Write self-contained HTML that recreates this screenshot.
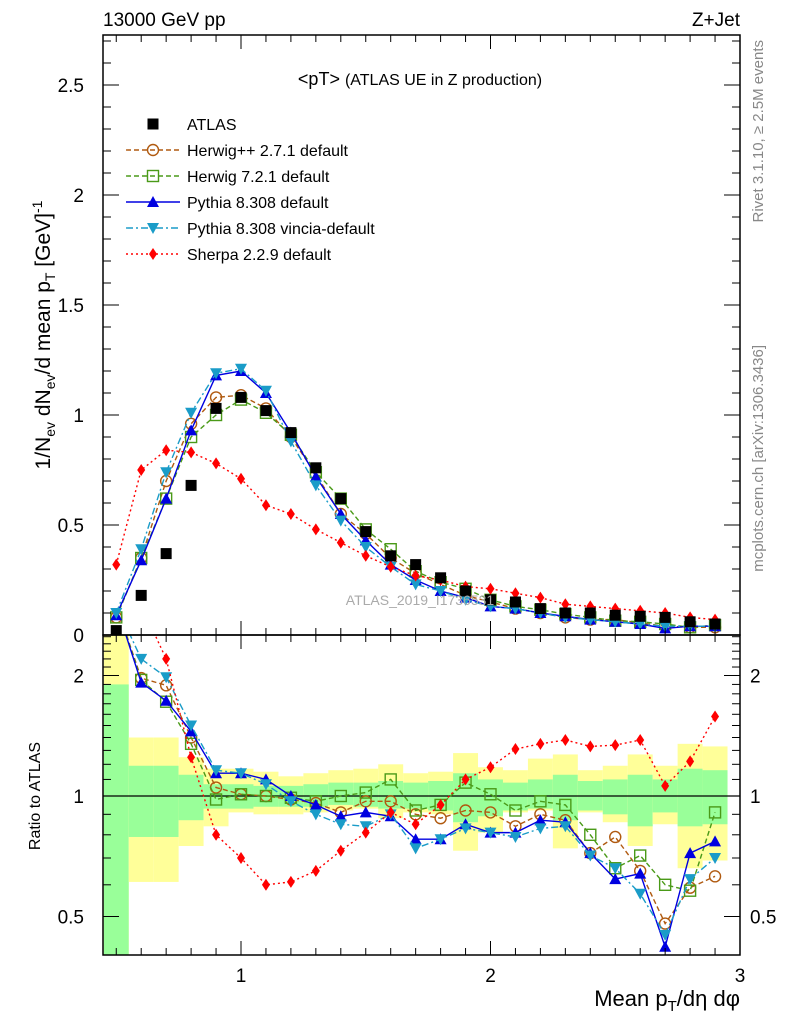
<!DOCTYPE html>
<html><head><meta charset="utf-8"><style>
html,body{margin:0;padding:0;background:#fff;}
svg{display:block;font-family:"Liberation Sans",sans-serif;}
</style></head><body>
<svg id="c" width="786" height="1024" viewBox="0 0 786 1024"></svg>
<script>
const xs=[0.5,0.6,0.7,0.8,0.9,1.0,1.1,1.2,1.3,1.4,1.5,1.6,1.7,1.8,1.9,2.0,2.1,2.2,2.3,2.4,2.5,2.6,2.7,2.8,2.9];
const atlas=[0.02,0.18,0.37,0.68,1.03,1.08,1.02,0.92,0.76,0.62,0.47,0.36,0.32,0.26,0.20,0.16,0.15,0.12,0.10,0.10,0.09,0.085,0.08,0.06,0.05];
const herwigpp=[0.08,0.35,0.70,0.96,1.08,1.09,1.03,0.90,0.73,0.55,0.46,0.35,0.28,0.23,0.18,0.15,0.12,0.10,0.08,0.07,0.07,0.055,0.04,0.035,0.035];
const herwig7=[0.08,0.35,0.62,0.90,1.00,1.07,1.01,0.91,0.74,0.62,0.48,0.39,0.29,0.24,0.21,0.16,0.13,0.115,0.095,0.08,0.065,0.06,0.05,0.035,0.045];
const pythia=[0.09,0.34,0.62,0.93,1.18,1.20,1.10,0.92,0.72,0.55,0.43,0.32,0.25,0.20,0.17,0.13,0.12,0.10,0.085,0.07,0.06,0.05,0.03,0.04,0.04];
const vincia=[0.10,0.39,0.74,1.01,1.19,1.21,1.11,0.88,0.68,0.52,0.40,0.31,0.23,0.20,0.16,0.13,0.12,0.10,0.08,0.07,0.06,0.05,0.04,0.04,0.04];
const sherpa=[0.32,0.75,0.84,0.83,0.78,0.71,0.59,0.55,0.48,0.42,0.36,0.31,0.27,0.25,0.22,0.21,0.19,0.17,0.14,0.13,0.12,0.11,0.10,0.08,0.07];
const rHerwigpp=[3.0,1.97,1.89,1.40,1.05,1.01,1.00,0.98,0.96,0.91,0.97,0.97,0.90,0.88,0.92,0.91,0.84,0.90,0.87,0.72,0.79,0.65,0.48,0.59,0.63];
const rHerwig7=[3.0,1.95,1.72,1.35,0.98,1.01,1.00,0.99,0.97,1.00,1.02,1.10,0.92,0.95,1.08,1.01,0.92,0.97,0.95,0.80,0.66,0.71,0.60,0.58,0.91];
const rPythia=[3.0,1.92,1.73,1.45,1.14,1.14,1.10,1.00,0.95,0.89,0.91,0.89,0.78,0.78,0.85,0.81,0.81,0.87,0.86,0.72,0.62,0.64,0.42,0.72,0.77];
const rVincia=[3.0,2.20,1.98,1.50,1.16,1.14,1.07,0.97,0.90,0.85,0.84,0.90,0.74,0.78,0.83,0.81,0.79,0.83,0.84,0.71,0.66,0.57,0.45,0.62,0.70];
const rSherpa=[3.0,3.0,2.2,1.25,0.80,0.70,0.60,0.61,0.65,0.73,0.81,0.91,0.85,0.95,1.10,1.18,1.31,1.35,1.38,1.33,1.34,1.38,1.06,1.22,1.58];
const greenHi=[1.9,1.19,1.19,1.13,1.07,1.07,1.06,1.06,1.07,1.08,1.08,1.09,1.08,1.09,1.14,1.10,1.08,1.10,1.13,1.09,1.10,1.13,1.10,1.17,1.16];
const greenLo=[0.35,0.79,0.79,0.87,0.93,0.93,0.94,0.94,0.94,0.95,0.94,0.93,0.93,0.92,0.86,0.89,0.92,0.93,0.87,0.92,0.90,0.84,0.91,0.84,0.85];
const yellowHi=[3.0,1.40,1.40,1.25,1.17,1.17,1.15,1.12,1.14,1.16,1.17,1.20,1.14,1.15,1.28,1.18,1.16,1.24,1.27,1.16,1.19,1.27,1.19,1.35,1.33];
const yellowLo=[0.35,0.61,0.61,0.75,0.84,0.91,0.90,0.90,0.91,0.92,0.93,0.88,0.91,0.90,0.73,0.81,0.91,0.92,0.74,0.91,0.86,0.75,0.85,0.66,0.69];
const mainTicks=["0","0.5","1","1.5","2","2.5"];
const xTicks=["1","2","3"];

const NS="http://www.w3.org/2000/svg";
const svg=document.getElementById('c');
const L=103,R=740,MT=35,MB=635,RT=635,RB=955;
const X=v=>241+(v-1)*249.5;
const Y=v=>635-v*220;
const RY=v=>796-Math.log2(v)*120.5;
function mk(tag,at,parent){const e=document.createElementNS(NS,tag);for(const k in at)e.setAttribute(k,at[k]);(parent||svg).appendChild(e);return e;}
function txt(s,x,y,size,anchor,parent,fill){const t=mk('text',{x:x,y:y,'font-size':size,'text-anchor':anchor||'start',fill:fill||'#000'},parent);t.textContent=s;return t;}

const defs=mk('defs',{});
const c1=mk('clipPath',{id:'cm'},defs);mk('rect',{x:L,y:MT,width:R-L,height:MB-MT},c1);
const c2=mk('clipPath',{id:'cr'},defs);mk('rect',{x:L,y:RT,width:R-L,height:RB-RT},c2);

const bands=mk('g',{'clip-path':'url(#cr)'});


xs.forEach((x,i)=>{
  const x0=i===0?X(0.45):X(x-0.05), x1=X(x+0.05);
  const y=mk('rect',{x:x0,y:RY(yellowHi[i]),width:x1-x0,height:RY(yellowLo[i])-RY(yellowHi[i]),fill:'#ffff99'},bands);
  
  
  const g=mk('rect',{x:x0,y:RY(greenHi[i]),width:x1-x0,height:RY(greenLo[i])-RY(greenHi[i]),fill:'#99ff99'},bands);
  
  
});
mk('line',{x1:L,x2:R,y1:RY(1),y2:RY(1),stroke:'#000','stroke-width':1.3});

function marker(kind,x,y,col,parent){
  if(kind==='sq')return mk('rect',{x:x-5.5,y:y-5.5,width:11,height:11,fill:'#000'},parent);
  if(kind==='circ')return mk('circle',{cx:x,cy:y,r:5.5,fill:'none',stroke:col,'stroke-width':1.4},parent);
  if(kind==='osq')return mk('rect',{x:x-5.5,y:y-5.5,width:11,height:11,fill:'none',stroke:col,'stroke-width':1.4},parent);
  if(kind==='tu')return mk('polygon',{points:`${x},${y-6} ${x-6},${y+5} ${x+6},${y+5}`,fill:col},parent);
  if(kind==='td')return mk('polygon',{points:`${x},${y+6} ${x-6},${y-5} ${x+6},${y-5}`,fill:col},parent);
  if(kind==='dia')return mk('polygon',{points:`${x},${y-6} ${x-4},${y} ${x},${y+6} ${x+4},${y}`,fill:col},parent);
}
const series=[
 {n:'herwigpp',d:herwigpp,r:rHerwigpp,col:'#b05a10',dash:'5,3',m:'circ',lab:'Herwig++ 2.7.1 default'},
 {n:'herwig7',d:herwig7,r:rHerwig7,col:'#4a9a18',dash:'5,3',m:'osq',lab:'Herwig 7.2.1 default'},
 {n:'pythia',d:pythia,r:rPythia,col:'#0000e0',dash:'',m:'tu',lab:'Pythia 8.308 default'},
 {n:'vincia',d:vincia,r:rVincia,col:'#1a9cc8',dash:'7,3,2,3',m:'td',lab:'Pythia 8.308 vincia-default'},
 {n:'sherpa',d:sherpa,r:rSherpa,col:'#ff0000',dash:'2,3',m:'dia',lab:'Sherpa 2.2.9 default'}
];
const gm=mk('g',{'clip-path':'url(#cm)'});
const gr=mk('g',{'clip-path':'url(#cr)'});
series.forEach(s=>{
  [[gm,s.d,Y,'main'],[gr,s.r,RY,'ratio']].forEach(([g,d,f,p])=>{
    const sg=mk('g',{},g);
    
    
    const pts=xs.map((x,i)=>X(x)+','+f(d[i])).join(' ');
    const pl=mk('polyline',{points:pts,fill:'none',stroke:s.col,'stroke-width':1.4,'stroke-dasharray':s.dash},sg);
    
    
    xs.forEach((x,i)=>{const m=marker(s.m,X(x),f(d[i]),s.col,sg);
      
      });
  });
});
const ga=mk('g',{'clip-path':'url(#cm)'});


xs.forEach((x,i)=>{const m=marker('sq',X(x),Y(atlas[i]),'#000',ga);
  
  });

mk('rect',{x:L,y:MT,width:R-L,height:MB-MT,fill:'none',stroke:'#000','stroke-width':1.5});
mk('rect',{x:L,y:RT,width:R-L,height:RB-RT,fill:'none',stroke:'#000','stroke-width':1.5});

for(let k=5;k<=30;k++){const v=k/10,x=X(v);if(x<L||x>R)continue;const maj=k%10===0;const l=maj?14:7;
  [[MB,-1],[MT,1],[RB,-1],[RT,1]].forEach(([y,d])=>mk('line',{x1:x,x2:x,y1:y,y2:y+d*l,stroke:'#000','stroke-width':1}));}
xTicks.forEach(t=>{const e=txt(t,X(+t),982,19,'middle');});
for(let k=0;k<=27;k++){const v=k/10,y=Y(v);const maj=k%5===0;const l=maj?16:8;
  mk('line',{x1:L,x2:L+l,y1:y,y2:y,stroke:'#000'});mk('line',{x1:R,x2:R-l,y1:y,y2:y,stroke:'#000'});}
mainTicks.forEach(t=>{const e=txt(t,84,Y(+t)+7,19,'end');});
[0.4,0.5,0.6,0.7,0.8,0.9,1,1.1,1.2,1.3,1.4,1.5,1.6,1.7,1.8,1.9,2,2.1,2.2,2.3,2.4,2.5].forEach(v=>{const y=RY(v);if(y<RT||y>RB)return;
  const maj=(v===0.5||v===1||v===2);const l=maj?16:8;
  mk('line',{x1:L,x2:L+l,y1:y,y2:y,stroke:'#000'});mk('line',{x1:R,x2:R-l,y1:y,y2:y,stroke:'#000'});});
[["2",2],["1",1],["0.5",0.5]].forEach(([t,v])=>{
  let e=txt(t,84,RY(v)+7,19,'end');
  e=txt(t,750,RY(v)+7,19,'start');});

let e;
e=txt('13000 GeV pp',103,26,19,'start');
e=txt('Z+Jet',740,26,19,'end');
e=mk('text',{x:420,y:85,'font-size':18,'text-anchor':'middle'});e.innerHTML='&lt;pT&gt; <tspan font-size="16">(ATLAS UE in Z production)</tspan>';

e=mk('text',{transform:'translate(50,335) rotate(-90)','font-size':21,'text-anchor':'middle'});
e.innerHTML='1/N<tspan font-size="14" dy="5">ev</tspan><tspan dy="-5"> dN</tspan><tspan font-size="14" dy="5">ev</tspan><tspan dy="-5">/d mean p</tspan><tspan font-size="14" dy="5">T</tspan><tspan dy="-5"> [GeV]</tspan><tspan font-size="14" dy="-8">-1</tspan>';

e=mk('text',{transform:'translate(40,796) rotate(-90)','font-size':16,'text-anchor':'middle'});e.textContent='Ratio to ATLAS';

e=mk('text',{x:740,y:1006,'font-size':22,'text-anchor':'end'});
e.innerHTML='Mean p<tspan font-size="15" dy="5">T</tspan><tspan dy="-5">/dη dφ</tspan>';

e=mk('text',{transform:'translate(763,40) rotate(-90)','font-size':15,'text-anchor':'end',fill:'#888'});e.textContent='Rivet 3.1.10, ≥ 2.5M events';

e=mk('text',{transform:'translate(763,345) rotate(-90)','font-size':15,'text-anchor':'end',fill:'#888'});e.textContent='mcplots.cern.ch [arXiv:1306.3436]';

e=txt('ATLAS_2019_I1736531',420,605,14,'middle',svg,'#aaa');

const lg=mk('g',{});


const le0=mk('g',{},lg);


marker('sq',153,124,'#000',le0);txt('ATLAS',187,130,16,'start',le0);
series.forEach((s,i)=>{const y=150+i*26;const g=mk('g',{},lg);
  
  
  mk('line',{x1:126,x2:180,y1:y,y2:y,stroke:s.col,'stroke-width':1.4,'stroke-dasharray':s.dash},g);
  marker(s.m,153,y,s.col,g);txt(s.lab,187,y+6,16,'start',g);});
</script>
</body></html>
